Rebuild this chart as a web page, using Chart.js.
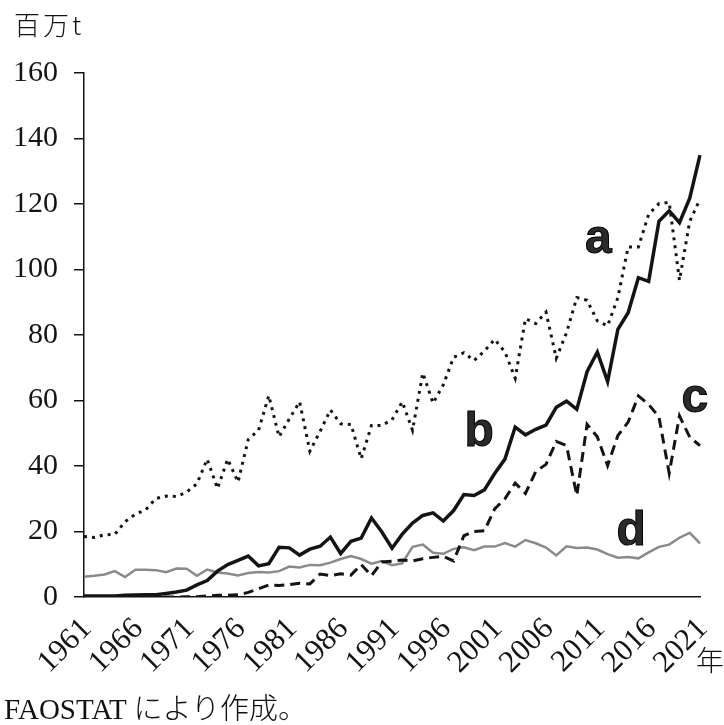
<!DOCTYPE html>
<html>
<head>
<meta charset="utf-8">
<script src="https://cdn.jsdelivr.net/npm/chart.js"></script>
<style>
html,body{margin:0;padding:0;background:#fff;}
#wrap{position:relative;width:724px;height:725px;overflow:hidden;}
#c{position:absolute;left:0;top:0;}
.t{position:absolute;font-family:"Liberation Serif","Noto Sans CJK JP",serif;color:#111;white-space:nowrap;line-height:1;}
</style>
</head>
<body>
<div id="wrap">
<canvas id="c" width="724" height="725"></canvas>
<div class="t" style="left:14px;top:11px;font-size:26px;letter-spacing:3px;font-family:'Noto Sans CJK JP';font-weight:300;">百万t</div>
<div class="t" style="left:696px;top:645px;font-size:28px;font-family:'Noto Sans CJK JP';font-weight:300;">年</div>
<div class="t" style="left:4px;top:692px;font-size:29px;">FAOSTAT <span style="font-family:'Noto Sans CJK JP';font-weight:300;font-size:29px;">により作成。</span></div>
</div>
<script>
const years = [1961,1962,1963,1964,1965,1966,1967,1968,1969,1970,
  1971,1972,1973,1974,1975,1976,1977,1978,1979,1980,
  1981,1982,1983,1984,1985,1986,1987,1988,1989,1990,
  1991,1992,1993,1994,1995,1996,1997,1998,1999,2000,
  2001,2002,2003,2004,2005,2006,2007,2008,2009,2010,
  2011,2012,2013,2014,2015,2016,2017,2018,2019,2020,2021];

const tickYears = [1961,1966,1971,1976,1981,1986,1991,1996,2001,2006,2011,2016,2021];

const seriesA = [18.5,18.2,19.0,19.1,23.0,25.3,26.6,30.1,30.8,30.7,
  32.0,34.6,42.1,33.1,42.1,35.1,48.1,50.9,61.5,48.9,
  54.4,59.6,44.5,50.6,57.1,52.9,52.7,42.2,52.4,52.4,
  54.1,59.6,50.9,68.4,59.2,64.8,73.2,74.6,72.2,75.1,
  78.7,74.8,66.8,85.0,83.5,87.0,72.9,80.7,91.4,90.6,
  84.3,82.8,91.4,106.9,106.9,116.9,120.1,120.5,96.7,114.7,121.5];

const seriesB = [0.3,0.3,0.3,0.3,0.5,0.6,0.7,0.7,1.1,1.5,
  2.1,3.7,5.0,7.9,9.9,11.2,12.5,9.5,10.2,15.2,
  15.0,12.8,14.6,15.5,18.3,13.3,17.0,18.0,24.1,19.9,
  14.9,19.2,22.6,24.9,25.7,23.2,26.4,31.3,31.0,32.7,
  37.7,42.1,51.9,49.5,51.2,52.5,57.9,59.8,57.3,68.8,
  74.8,65.8,81.7,86.8,97.5,96.4,114.7,117.9,114.3,121.8,134.9];

const seriesC = [0.0,0.0,0.0,0.0,0.0,0.0,0.0,0.0,0.0,0.0,
  0.1,0.1,0.3,0.5,0.5,0.7,1.4,2.5,3.7,3.5,
  3.8,4.2,4.0,7.0,6.5,7.1,6.7,9.9,6.5,10.7,
  10.9,11.3,11.0,11.7,12.1,12.4,11.0,18.7,20.0,20.2,
  26.9,30.0,34.8,31.6,38.3,40.5,47.5,46.2,31.0,52.7,
  48.9,40.1,49.3,53.4,61.4,58.8,55.0,37.8,55.3,48.8,46.2];

const seriesD = [6.2,6.5,6.9,7.9,6.1,8.3,8.3,8.2,7.6,8.7,
  8.6,6.5,8.4,7.5,7.2,6.6,7.3,7.6,7.5,7.9,
  9.3,9.0,9.8,9.7,10.5,11.6,12.5,11.6,10.2,11.0,
  9.7,10.3,15.3,16.0,13.5,13.2,14.7,15.2,14.3,15.4,
  15.4,16.5,15.4,17.4,16.4,15.1,12.7,15.5,15.0,15.1,
  14.5,13.1,12.0,12.2,11.8,13.6,15.3,16.0,18.1,19.6,16.4];

const seriesNames = ['a','b','c','d'];
// label anchor: [category index, value] for the big series letters
const letterAnchors = [[50.1, 105], [38.5, 46], [59.5, 56.5], [53.3, 16]];

const INK = '#141414';

const letterPlugin = {
  id: 'letters',
  afterDatasetsDraw(chart) {
    const {ctx, scales} = chart;
    ctx.save();
    ctx.font = 'bold 48px "Liberation Sans", Arial, sans-serif';
    ctx.fillStyle = '#2a2a2a';
    ctx.strokeStyle = '#000';
    ctx.lineWidth = 1;
    ctx.textAlign = 'center';
    ctx.textBaseline = 'alphabetic';
    seriesNames.forEach((n, i) => {
      const x = scales.x.getPixelForValue(letterAnchors[i][0]);
      const y = scales.y.getPixelForValue(letterAnchors[i][1]);
      ctx.fillText(n, x, y);
      ctx.strokeText(n, x, y);
    });
    ctx.restore();
  }
};

new Chart(document.getElementById('c'), {
  type: 'line',
  data: {
    labels: years,
    datasets: [
      {label: 'a', data: seriesA, borderColor: INK, borderWidth: 3, borderDash: [3, 5], borderCapStyle: 'butt'},
      {label: 'b', data: seriesB, borderColor: INK, borderWidth: 3.5},
      {label: 'c', data: seriesC, borderColor: INK, borderWidth: 3, borderDash: [10, 6]},
      {label: 'd', data: seriesD, borderColor: '#8a8a8a', borderWidth: 2.5}
    ]
  },
  options: {
    responsive: false,
    animation: false,
    devicePixelRatio: 1,
    elements: {point: {radius: 0}, line: {tension: 0, fill: false}},
    layout: {padding: {left: 0, top: 73, right: 24, bottom: 0}},
    plugins: {legend: {display: false}, tooltip: {enabled: false}},
    scales: {
      x: {
        type: 'category',
        offset: false,
        grid: {display: false},
        border: {display: true, color: INK, width: 1.5},
        ticks: {
          autoSkip: false,
          maxRotation: 45,
          minRotation: 45,
          padding: 6,
          labelOffset: 3,
          color: INK,
          font: {family: '"Liberation Serif", serif', size: 31},
          callback: function(v, i) { return tickYears.includes(years[i]) ? String(years[i]) : null; }
        },
        afterFit(scale) { scale.height = 128; scale.paddingRight = 0; scale.paddingLeft = 0; }
      },
      y: {
        min: 0,
        max: 160,
        grid: {display: true, drawOnChartArea: false, drawTicks: true, tickLength: 10, color: INK, lineWidth: 1.5},
        border: {display: true, color: INK, width: 1.5},
        ticks: {
          stepSize: 20,
          padding: 16,
          color: INK,
          font: {family: '"Liberation Serif", serif', size: 30}
        },
        afterFit(scale) { scale.width = 84; }
      }
    }
  },
  plugins: [letterPlugin]
});
</script>
</body>
</html>
